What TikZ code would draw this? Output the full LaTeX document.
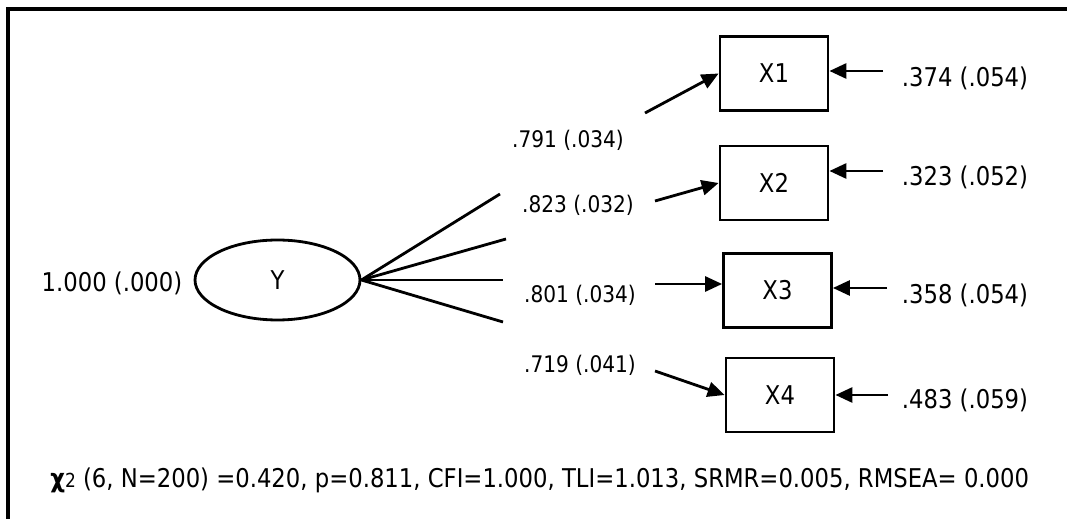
\documentclass[tikz,border=0pt]{standalone}
\usepackage{fontspec}
\setmainfont{DejaVu Sans}[FakeStretch=0.88]
\usepackage{tikz}
\usetikzlibrary{arrows.meta,positioning,shapes.geometric}

\begin{document}
\begin{tikzpicture}[
x=0.02cm, y=-0.02cm,
font=\fontsize{14.7}{17}\selectfont,
obs/.style={rectangle, draw, line width=1.6pt, minimum width=2.16cm, minimum height=1.48cm},
latent/.style={ellipse, draw, line width=1.6pt, minimum width=3.3cm, minimum height=1.6cm, inner sep=0pt},
est/.style={inner sep=0pt},
load/.style={inner sep=0pt, font=\fontsize{13}{15}\selectfont},
arrow/.style={-{Triangle[length=0.34cm, width=0.3cm]}, line width=1.6pt},
spoke/.style={line width=1.6pt}
]
\useasboundingbox (0,0) rectangle (1067,519);
\draw[line width=1.8pt] (8,519) -- (8,9) -- (1067,9);

\node[latent] (Y) at (277.5,280) {Y};
\node[est] (vY) at (112,283) {1.000 (.000)};

\node[obs] (X1) at (774,73.5) {X1};
\node[obs] (X2) at (774,183) {X2};
\node[obs] (X3) at (777.5,290.5) {X3};
\node[obs] (X4) at (780,395) {X4};

\coordinate (s1) at (500,194);
\coordinate (s2) at (506,239);
\coordinate (s3) at (503,280);
\coordinate (s4) at (503,322);
\draw[spoke] (Y.east) -- (s1);
\draw[spoke] (Y.east) -- (s2);
\draw[spoke] (Y.east) -- (s3);
\draw[spoke] (Y.east) -- (s4);

\node[load] (l1) at (568,140) {.791 (.034)};
\node[load] (l2) at (578,205) {.823 (.032)};
\node[load] (l3) at (580,295) {.801 (.034)};
\node[load] (l4) at (580,365) {.719 (.041)};

\coordinate (a1) at (645,113);
\coordinate (a2) at (655,201);
\coordinate (a3) at (655,284);
\coordinate (a4) at (655,371);
\draw[arrow] (a1) -- (X1.west);
\draw[arrow] (a2) -- (X2.west);
\draw[arrow] (a3) -- (a3 -| X3.west);
\draw[arrow] (a4) -- (X4.west);

\node[est] (r1) at (965,78) {.374 (.054)};
\node[est] (r2) at (965,177) {.323 (.052)};
\node[est] (r3) at (965,295) {.358 (.054)};
\node[est] (r4) at (965,400) {.483 (.059)};

\coordinate (e1) at (883,71);
\coordinate (e2) at (883,171);
\coordinate (e3) at (887,288);
\coordinate (e4) at (888,395);
\draw[arrow] (e1) -- (e1 -| X1.east);
\draw[arrow] (e2) -- (e2 -| X2.east);
\draw[arrow] (e3) -- (e3 -| X3.east);
\draw[arrow] (e4) -- (e4 -| X4.east);

\node[est, anchor=west] (fit) at (50,480) {\textbf{χ}{\fontsize{11}{13}\selectfont 2} (6, N=200) =0.420, p=0.811, CFI=1.000, TLI=1.013, SRMR=0.005, RMSEA= 0.000};
\end{tikzpicture}
\end{document}
